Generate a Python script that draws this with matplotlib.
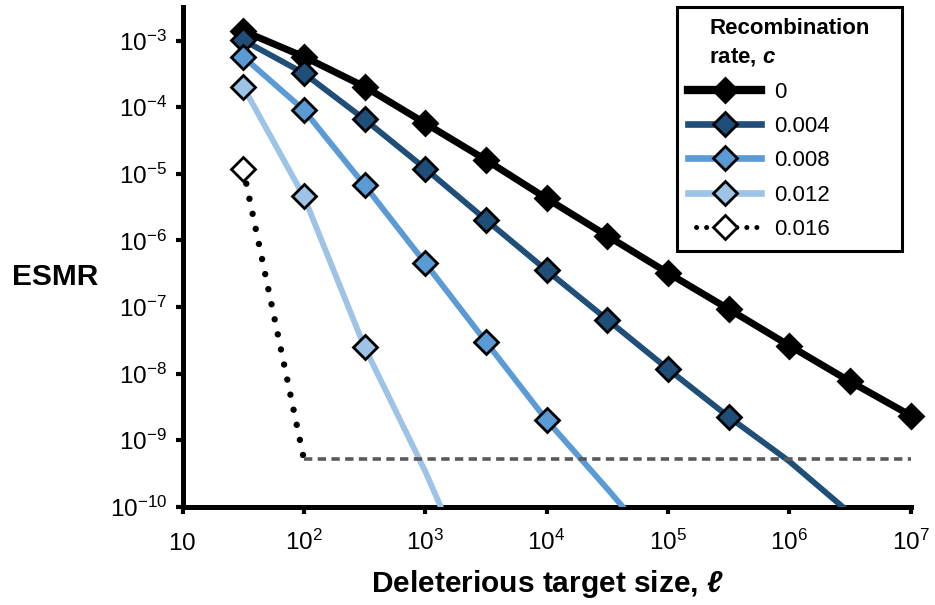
import matplotlib
matplotlib.use("Agg")
import matplotlib.pyplot as plt
from matplotlib.lines import Line2D

plt.rcParams['font.family'] = ['Liberation Sans', 'DejaVu Sans']
plt.rcParams['mathtext.fontset'] = 'custom'
plt.rcParams['mathtext.rm'] = 'Liberation Sans'
plt.rcParams['mathtext.it'] = 'Liberation Sans:italic'
plt.rcParams['mathtext.bf'] = 'Liberation Sans:bold'
plt.rcParams['mathtext.bfit'] = 'Liberation Sans:italic:bold'

# ---------------- data ----------------
target_size = [31.6, 100, 316, 1000, 3162, 1e4, 31623, 1e5, 316228, 1e6, 3162278, 1e7]

esmr_c0 = [1.4e-3, 5.75e-4, 2.04e-4, 5.75e-5, 1.62e-5, 4.27e-6, 1.17e-6,
           3.24e-7, 9.3e-8, 2.63e-8, 7.6e-9, 2.34e-9]
esmr_c004 = [1.02e-3, 3.24e-4, 6.6e-5, 1.2e-5, 2.04e-6, 3.55e-7, 6.46e-8,
             1.17e-8, 2.24e-9, 4.8e-10, 8.0e-11]
esmr_c008 = [5.75e-4, 9.1e-5, 6.76e-6, 4.57e-7, 3.0e-8, 2.0e-9, 1.86e-10, 1.6e-11]
esmr_c012 = [2.04e-4, 4.57e-6, 2.5e-8, 3.4e-10, 2.8e-12]
esmr_c016 = [1.2e-5, 5.2e-10]

n_markers = [12, 9, 6, 3, 1]
rates = ['0', '0.004', '0.008', '0.012', '0.016']

floor_x = [100, 1e7]
floor_y = [5.2e-10, 5.2e-10]

x_ticks = [10, 1e2, 1e3, 1e4, 1e5, 1e6, 1e7]
x_ticklabels = ['$10$', '$10^{2}$', '$10^{3}$', '$10^{4}$', '$10^{5}$', '$10^{6}$', '$10^{7}$']
y_ticks = [1e-10, 1e-9, 1e-8, 1e-7, 1e-6, 1e-5, 1e-4, 1e-3]
y_ticklabels = ['$10^{-10}$', '$10^{-9}$', '$10^{-8}$', '$10^{-7}$', '$10^{-6}$',
                '$10^{-5}$', '$10^{-4}$', '$10^{-3}$']

# ---------------- styles ----------------
series = [esmr_c0, esmr_c004, esmr_c008, esmr_c012, esmr_c016]
line_colors = ['#000000', '#1F4E79', '#5B9BD5', '#9DC3E6', '#000000']
face_colors = ['#000000', '#1F4E79', '#5B9BD5', '#9DC3E6', '#FFFFFF']
line_widths = [5.0, 4.2, 4.2, 4.2, 4.6]
dotted = (0, (0.01, 2.4))
line_styles = ['-', '-', '-', '-', dotted]
MS = 12
MEW = 2.0

fig = plt.figure(figsize=(9.35, 6.05), dpi=100)
ax = fig.add_axes([182.5 / 935, 1 - 506.7 / 605, (910.7 - 182.5) / 935, (506.7 - 7) / 605])
ax.set_xscale('log')
ax.set_yscale('log')
ax.set_xlim(10, 1e7)
ax.set_ylim(1e-10, 10 ** -2.494)

for i, ys in enumerate(series):
    xs = target_size[:len(ys)]
    if i == 4:
        xs = [target_size[0], 100]
    ax.plot(xs, ys, color=line_colors[i], lw=line_widths[i], ls=line_styles[i],
            dash_capstyle='round', solid_capstyle='butt', zorder=2 + 2 * i)
    m = n_markers[i]
    ax.plot(xs[:m], ys[:m], ls='none', marker='D', ms=MS, mfc=face_colors[i],
            mec='black', mew=MEW, clip_on=False, zorder=3 + 2 * i)

ax.plot(floor_x, floor_y, color='#595959', lw=2.6, ls=(0, (2.3, 1.5)), zorder=13)

# axes styling
for s in ['top', 'right']:
    ax.spines[s].set_visible(False)
for s in ['left', 'bottom']:
    ax.spines[s].set_linewidth(3.6)
    ax.spines[s].set_color('black')

ax.set_xticks(x_ticks, x_ticklabels)
ax.set_yticks(y_ticks, y_ticklabels)
ax.minorticks_off()
ax.tick_params(axis='both', which='major', direction='out', length=5, width=3,
               color='black', labelsize=17.5)
ax.tick_params(axis='y', pad=6.0)
ax.tick_params(axis='x', pad=26)
for t in ax.xaxis.get_major_ticks():
    t.label1.set_verticalalignment('baseline')

fig.text(55 / 935, 1 - 277 / 605, 'ESMR', fontsize=21.5, fontweight='bold',
         ha='center', va='center')
fig.text(547 / 935, 1 - 592 / 605, 'Deleterious target size, $\\mathbfit{\\ell}$',
         fontsize=21.5, fontweight='bold', ha='center', va='baseline')

# legend
legend_lw = [6.0, 4.8, 4.8, 4.8, 3.6]
legend_ls = ['-', '-', '-', '-', (0.4, (0.01, 2.0))]
handles = []
for i in range(5):
    handles.append(Line2D([], [], color=line_colors[i], lw=legend_lw[i], ls=legend_ls[i],
                          dash_capstyle='round', marker='D', ms=MS,
                          mfc=face_colors[i], mec='black', mew=MEW))
leg = fig.legend(handles, rates, loc='upper left',
                 bbox_to_anchor=(677 / 935, 1 - 248 / 605, 225 / 935, (248 - 6.7) / 605),
                 bbox_transform=fig.transFigure, mode='expand', borderaxespad=0,
                 frameon=True, fancybox=False, edgecolor='black', framealpha=1,
                 fontsize=16, title='Recombination\nrate, $\\mathbfit{c}$',
                 title_fontproperties={'weight': 'bold', 'size': 16},
                 borderpad=0.5, labelspacing=0.6, handlelength=3.3, handletextpad=0.55,
                 numpoints=1)
leg.get_title().set_linespacing(1.45)
leg.get_frame().set_linewidth(2.2)

fig.savefig('out.png', dpi=100)
